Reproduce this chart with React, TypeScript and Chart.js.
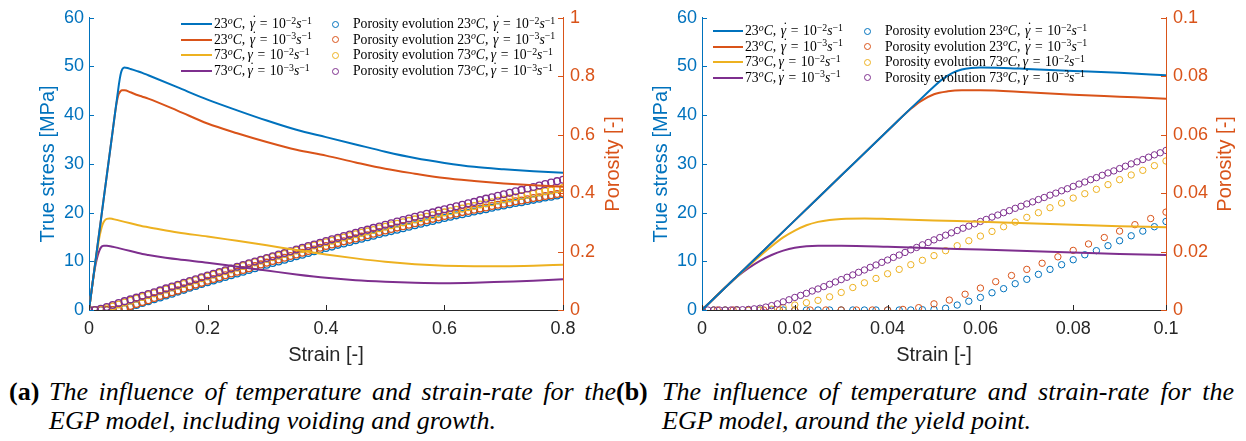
import React, { useEffect, useRef } from "react";
import { Chart, registerables } from "chart.js";
Chart.register(...registerables);

// ---------- stress–strain curves (shared by both panels) ----------
const STRAIN_23C_E2 = [0, 0.01, 0.02, 0.03, 0.04, 0.045, 0.048, 0.05, 0.052, 0.054, 0.056, 0.058, 0.06, 0.065, 0.07, 0.08, 0.09, 0.1, 0.15, 0.2, 0.25, 0.3, 0.35, 0.4, 0.45, 0.5, 0.55, 0.6, 0.65, 0.7, 0.75, 0.8];
const STRESS_23C_E2 = [0, 9.2, 18.4, 27.6, 36.8, 41.4, 44.1, 45.9, 47.5, 48.7, 49.4, 49.7, 49.8, 49.7, 49.5, 49.1, 48.7, 48.2, 45.7, 43.2, 41.0, 38.9, 37.0, 35.5, 34.0, 32.5, 31.2, 30.2, 29.4, 28.9, 28.5, 28.2];

const STRAIN_23C_E3 = [0, 0.01, 0.02, 0.03, 0.04, 0.045, 0.047, 0.05, 0.053, 0.056, 0.06, 0.07, 0.08, 0.09, 0.1, 0.15, 0.2, 0.25, 0.3, 0.35, 0.4, 0.45, 0.5, 0.55, 0.6, 0.65, 0.7, 0.75, 0.8];
const STRESS_23C_E3 = [0, 9.2, 18.4, 27.6, 36.8, 41.3, 42.8, 44.3, 44.9, 45.1, 45.1, 44.7, 44.2, 43.8, 43.4, 40.9, 38.3, 36.3, 34.5, 32.9, 31.7, 30.3, 29.0, 28.0, 27.1, 26.5, 26.0, 25.6, 25.3];

const STRAIN_73C_E2 = [0, 0.005, 0.01, 0.0125, 0.015, 0.0175, 0.02, 0.0225, 0.025, 0.0275, 0.03, 0.035, 0.04, 0.05, 0.06, 0.07, 0.08, 0.09, 0.1, 0.15, 0.2, 0.25, 0.3, 0.35, 0.4, 0.45, 0.5, 0.55, 0.6, 0.65, 0.7, 0.75, 0.8];
const STRESS_73C_E2 = [0, 4.6, 9.0, 11.1, 13.1, 14.9, 16.3, 17.4, 18.1, 18.5, 18.7, 18.8, 18.7, 18.4, 18.1, 17.8, 17.5, 17.2, 17.0, 15.9, 15.1, 14.2, 13.3, 12.3, 11.4, 10.6, 9.9, 9.4, 9.1, 9.0, 9.0, 9.1, 9.3];

const STRAIN_73C_E3 = [0, 0.005, 0.0075, 0.01, 0.0125, 0.015, 0.0175, 0.02, 0.0225, 0.025, 0.03, 0.04, 0.05, 0.06, 0.07, 0.08, 0.09, 0.1, 0.15, 0.2, 0.25, 0.3, 0.35, 0.4, 0.45, 0.5, 0.55, 0.6, 0.65, 0.7, 0.75, 0.8];
const STRESS_73C_E3 = [0, 4.6, 6.8, 8.6, 10.1, 11.3, 12.2, 12.8, 13.1, 13.2, 13.2, 13.0, 12.7, 12.4, 12.1, 11.8, 11.5, 11.3, 10.4, 9.7, 8.9, 8.1, 7.3, 6.6, 6.1, 5.8, 5.6, 5.5, 5.6, 5.8, 6.0, 6.3];

// ---------- porosity, panel (a): strain 0 … 0.8 ----------
const STRAIN_A = [0, 0.01, 0.02, 0.03, 0.04, 0.05, 0.06, 0.07, 0.08, 0.09, 0.1, 0.11, 0.12, 0.13, 0.14, 0.15, 0.16, 0.17, 0.18, 0.19, 0.2, 0.21, 0.22, 0.23, 0.24, 0.25, 0.26, 0.27, 0.28, 0.29, 0.3, 0.31, 0.32, 0.33, 0.34, 0.35, 0.36, 0.37, 0.38, 0.39, 0.4, 0.41, 0.42, 0.43, 0.44, 0.45, 0.46, 0.47, 0.48, 0.49, 0.5, 0.51, 0.52, 0.53, 0.54, 0.55, 0.56, 0.57, 0.58, 0.59, 0.6, 0.61, 0.62, 0.63, 0.64, 0.65, 0.66, 0.67, 0.68, 0.69, 0.7, 0.71, 0.72, 0.73, 0.74, 0.75, 0.76, 0.77, 0.78, 0.79, 0.8];
const POROSITY_A_23C_E2 = [0, 0, 0, 0, 0, 0.0002, 0.0043, 0.0105, 0.0172, 0.0237, 0.030, 0.037, 0.043, 0.050, 0.056, 0.063, 0.069, 0.076, 0.082, 0.089, 0.095, 0.101, 0.107, 0.113, 0.119, 0.125, 0.131, 0.137, 0.143, 0.149, 0.155, 0.161, 0.166, 0.172, 0.178, 0.184, 0.189, 0.195, 0.201, 0.206, 0.212, 0.217, 0.223, 0.228, 0.233, 0.239, 0.244, 0.249, 0.254, 0.260, 0.265, 0.270, 0.275, 0.280, 0.285, 0.290, 0.295, 0.300, 0.305, 0.310, 0.315, 0.319, 0.324, 0.328, 0.332, 0.337, 0.341, 0.345, 0.350, 0.354, 0.358, 0.362, 0.366, 0.369, 0.373, 0.377, 0.381, 0.385, 0.388, 0.392, 0.396];
const POROSITY_A_23C_E3 = [0, 0, 0, 0, 0, 0.0021, 0.0075, 0.0139, 0.0204, 0.027, 0.0335, 0.041, 0.048, 0.054, 0.061, 0.067, 0.074, 0.080, 0.087, 0.093, 0.100, 0.106, 0.112, 0.119, 0.125, 0.131, 0.137, 0.143, 0.150, 0.156, 0.162, 0.168, 0.173, 0.179, 0.185, 0.190, 0.196, 0.202, 0.207, 0.213, 0.219, 0.224, 0.229, 0.235, 0.240, 0.245, 0.251, 0.256, 0.261, 0.267, 0.272, 0.277, 0.282, 0.287, 0.292, 0.297, 0.302, 0.307, 0.312, 0.317, 0.322, 0.326, 0.330, 0.335, 0.339, 0.343, 0.347, 0.351, 0.356, 0.360, 0.364, 0.368, 0.372, 0.375, 0.379, 0.383, 0.386, 0.390, 0.393, 0.397, 0.400];
const POROSITY_A_73C_E2 = [0, 0, 0.0017, 0.006, 0.0124, 0.0186, 0.0253, 0.0317, 0.0383, 0.0446, 0.051, 0.057, 0.064, 0.070, 0.077, 0.083, 0.089, 0.096, 0.102, 0.109, 0.115, 0.121, 0.127, 0.133, 0.139, 0.145, 0.151, 0.157, 0.163, 0.169, 0.175, 0.181, 0.186, 0.192, 0.198, 0.204, 0.209, 0.215, 0.221, 0.226, 0.232, 0.237, 0.243, 0.248, 0.253, 0.259, 0.264, 0.269, 0.274, 0.280, 0.285, 0.290, 0.295, 0.300, 0.305, 0.310, 0.314, 0.319, 0.324, 0.329, 0.334, 0.338, 0.343, 0.347, 0.352, 0.356, 0.361, 0.365, 0.369, 0.374, 0.378, 0.382, 0.386, 0.390, 0.394, 0.398, 0.402, 0.406, 0.409, 0.413, 0.417];
const POROSITY_A_73C_E3 = [0, 0.0002, 0.0043, 0.0104, 0.0171, 0.024, 0.0303, 0.0363, 0.0423, 0.0484, 0.0546, 0.061, 0.067, 0.074, 0.080, 0.086, 0.093, 0.099, 0.105, 0.112, 0.118, 0.124, 0.130, 0.136, 0.142, 0.148, 0.154, 0.160, 0.166, 0.172, 0.178, 0.184, 0.190, 0.195, 0.201, 0.207, 0.213, 0.219, 0.224, 0.230, 0.236, 0.242, 0.247, 0.253, 0.258, 0.264, 0.270, 0.275, 0.281, 0.286, 0.292, 0.297, 0.303, 0.308, 0.313, 0.319, 0.324, 0.329, 0.334, 0.340, 0.345, 0.350, 0.355, 0.360, 0.365, 0.370, 0.376, 0.381, 0.386, 0.391, 0.396, 0.401, 0.406, 0.411, 0.416, 0.421, 0.426, 0.431, 0.436, 0.441, 0.446];

// ---------- porosity, panel (b): strain 0 … 0.1 ----------
const STRAIN_B = [0, 0.0025, 0.005, 0.0075, 0.01, 0.0125, 0.015, 0.0175, 0.02, 0.0225, 0.025, 0.0275, 0.03, 0.0325, 0.035, 0.0375, 0.04, 0.0425, 0.045, 0.0475, 0.05, 0.0525, 0.055, 0.0575, 0.06, 0.0625, 0.065, 0.0675, 0.07, 0.0725, 0.075, 0.0775, 0.08, 0.0825, 0.085, 0.0875, 0.09, 0.0925, 0.095, 0.0975, 0.1];
const POROSITY_B_23C_E2 = [0, 0, 0, 0, 0, 0, 0, 0, 0, 0, 0, 0, 0, 0, 0, 0, 0, 0, 0, 0.0001, 0.0002, 0.0006, 0.0017, 0.003, 0.0043, 0.0059, 0.0073, 0.009, 0.0105, 0.0122, 0.0139, 0.0155, 0.0172, 0.0189, 0.0203, 0.022, 0.0237, 0.0254, 0.027, 0.0285, 0.0303];
const POROSITY_B_73C_E2 = [0, 0, 0, 0, 0, 0, 0.0003, 0.0008, 0.0017, 0.0025, 0.0033, 0.0045, 0.006, 0.0077, 0.0093, 0.0108, 0.0124, 0.0139, 0.0155, 0.017, 0.0186, 0.0203, 0.022, 0.0237, 0.0253, 0.0269, 0.0285, 0.0301, 0.0317, 0.0333, 0.035, 0.0366, 0.0383, 0.0398, 0.0413, 0.0429, 0.0446, 0.0462, 0.0478, 0.0494, 0.051];
const STRAIN_B_23C_E3 = [0, 0.0033, 0.0067, 0.01, 0.0133, 0.0167, 0.02, 0.0233, 0.0267, 0.03, 0.0333, 0.0367, 0.04, 0.0433, 0.0467, 0.05, 0.0533, 0.0567, 0.06, 0.0633, 0.0667, 0.07, 0.0733, 0.0767, 0.08, 0.0833, 0.0867, 0.09, 0.0933, 0.0967, 0.1];
const POROSITY_B_23C_E3 = [0, 0, 0, 0, 0, 0, 0, 0, 0, 0, 0, 0, 0, 0.0002, 0.0008, 0.0021, 0.0034, 0.0054, 0.0075, 0.0097, 0.0118, 0.0139, 0.016, 0.0182, 0.0204, 0.0226, 0.0248, 0.027, 0.0292, 0.0313, 0.0335];
const STRAIN_B_73C_E3 = [0, 0.00125, 0.0025, 0.00375, 0.005, 0.00625, 0.0075, 0.00875, 0.01, 0.01125, 0.0125, 0.01375, 0.015, 0.01625, 0.0175, 0.01875, 0.02, 0.02125, 0.0225, 0.02375, 0.025, 0.02625, 0.0275, 0.02875, 0.03, 0.03125, 0.0325, 0.03375, 0.035, 0.03625, 0.0375, 0.03875, 0.04, 0.04125, 0.0425, 0.04375, 0.045, 0.04625, 0.0475, 0.04875, 0.05, 0.05125, 0.0525, 0.05375, 0.055, 0.05625, 0.0575, 0.05875, 0.06, 0.06125, 0.0625, 0.06375, 0.065, 0.06625, 0.0675, 0.06875, 0.07, 0.07125, 0.0725, 0.07375, 0.075, 0.07625, 0.0775, 0.07875, 0.08, 0.08125, 0.0825, 0.08375, 0.085, 0.08625, 0.0875, 0.08875, 0.09, 0.09125, 0.0925, 0.09375, 0.095, 0.09625, 0.0975, 0.09875, 0.1];
const POROSITY_B_73C_E3 = [0, 0, 0, 0, 0, 0, 0.0001, 0.0001, 0.0002, 0.0004, 0.0006, 0.001, 0.0015, 0.0021, 0.0028, 0.0035, 0.0043, 0.005, 0.0057, 0.0065, 0.0072, 0.008, 0.0088, 0.0096, 0.0104, 0.0112, 0.012, 0.0129, 0.0137, 0.0146, 0.0154, 0.0163, 0.0171, 0.018, 0.0188, 0.0197, 0.0206, 0.0214, 0.0223, 0.0231, 0.024, 0.0248, 0.0256, 0.0264, 0.0272, 0.028, 0.0287, 0.0295, 0.0303, 0.031, 0.0318, 0.0325, 0.0333, 0.034, 0.0348, 0.0355, 0.0363, 0.037, 0.0378, 0.0385, 0.0393, 0.04, 0.0408, 0.0415, 0.0423, 0.0431, 0.0438, 0.0446, 0.0453, 0.0461, 0.0469, 0.0476, 0.0484, 0.0492, 0.05, 0.0507, 0.0515, 0.0523, 0.0531, 0.0538, 0.0546];

// ---------- labels ----------
const LEGEND_TEMPS = ["23", "23", "73", "73"];
const LEGEND_RATE_EXPONENTS = ["2", "3", "2", "3"];
const X_TITLE = "Strain [-]";
const Y_LEFT_TITLE = "True stress [MPa]";
const Y_RIGHT_TITLE = "Porosity [-]";
const CAPTION_A = ["The influence of temperature and strain-rate for the", "EGP model, including voiding and growth."];
const CAPTION_B = ["The influence of temperature and strain-rate for the", "EGP model, around the yield point."];

const BLUE = "#0072BD";
const ORANGE = "#D95319";
const YELLOW = "#EDB120";
const PURPLE = "#7E2F8E";
const INK = "#262626";
const COLORS = [BLUE, ORANGE, YELLOW, PURPLE];
const SANS = '"Liberation Sans", Arial, Helvetica, sans-serif';
const SERIF = '"Liberation Serif", "Times New Roman", Times, serif';

const zip = (xs: number[], ys: number[]) => xs.map((x, i) => ({ x, y: ys[i] }));
const fmt = (v: any) => String(parseFloat(Number(v).toFixed(4)));

const inwardTicks = {
  id: "inwardTicks",
  afterDraw(chart: any) {
    const { ctx, chartArea: a } = chart;
    ctx.save();
    ctx.lineWidth = 1;
    Object.values(chart.scales).forEach((s: any) => {
      ctx.strokeStyle = s.options.border.color;
      s.ticks.forEach((t: any) => {
        const p = Math.round(s.getPixelForValue(t.value)) + 0.5;
        ctx.beginPath();
        if (s.isHorizontal()) {
          ctx.moveTo(p, a.bottom);
          ctx.lineTo(p, a.bottom - 5);
        } else if (s.position === "left") {
          ctx.moveTo(a.left, p);
          ctx.lineTo(a.left + 5, p);
        } else {
          ctx.moveTo(a.right, p);
          ctx.lineTo(a.right - 5, p);
        }
        ctx.stroke();
      });
    });
    ctx.restore();
  },
};

const makeSideTitle = (text: string, x: number, color: string) => ({
  id: "sideTitle",
  afterDraw(chart: any) {
    const { ctx, chartArea: a } = chart;
    ctx.save();
    ctx.translate(x, (a.top + a.bottom) / 2);
    ctx.rotate(-Math.PI / 2);
    ctx.font = `20px ${SANS}`;
    ctx.fillStyle = color;
    ctx.textAlign = "center";
    ctx.textBaseline = "middle";
    ctx.fillText(text, 0, 0);
    ctx.restore();
  },
});

function buildConfig(p: any) {
  const lines = [
    [STRAIN_23C_E2, STRESS_23C_E2],
    [STRAIN_23C_E3, STRESS_23C_E3],
    [STRAIN_73C_E2, STRESS_73C_E2],
    [STRAIN_73C_E3, STRESS_73C_E3],
  ];
  const datasets: any[] = [];
  lines.forEach(([xs, ys], i) =>
    datasets.push({
      data: zip(xs, ys),
      borderColor: COLORS[i],
      borderWidth: 2,
      pointRadius: 0,
      fill: false,
      yAxisID: "y",
      order: i + 1,
      cubicInterpolationMode: "monotone",
    })
  );
  p.markers.forEach(([xs, ys]: any, i: number) =>
    datasets.push({
      data: zip(xs, ys),
      showLine: false,
      borderColor: COLORS[i],
      backgroundColor: "rgba(0,0,0,0)",
      pointBorderColor: COLORS[i],
      pointBackgroundColor: "rgba(0,0,0,0)",
      pointRadius: p.markerR,
      pointBorderWidth: p.markerW,
      yAxisID: "y1",
      order: 10 - i,
    })
  );
  const tickFont = { family: SANS, size: 18 };
  return {
    type: "line",
    data: { datasets },
    options: {
      responsive: false,
      animation: false,
      events: [],
      layout: { padding: { top: 15, left: 0, right: 0, bottom: 0 } },
      plugins: { legend: { display: false }, tooltip: { enabled: false } },
      scales: {
        x: {
          type: "linear",
          position: "bottom",
          min: 0,
          max: p.xMax,
          ticks: { stepSize: p.xStep, color: INK, font: tickFont, padding: 8, maxRotation: 0, autoSkip: false, callback: fmt },
          grid: { display: false, drawTicks: false },
          border: { display: true, color: INK, width: 1 },
          title: { display: true, text: X_TITLE, color: INK, font: { family: SANS, size: 20 }, padding: { top: 0, bottom: 3 } },
          afterFit: (s: any) => { s.height = 60; },
        },
        y: {
          type: "linear",
          position: "left",
          min: 0,
          max: 60,
          ticks: { stepSize: 10, color: BLUE, font: tickFont, padding: 5, callback: fmt },
          grid: { display: false, drawTicks: false },
          border: { display: true, color: BLUE, width: 1 },
          title: { display: true, text: Y_LEFT_TITLE, color: BLUE, font: { family: SANS, size: 20 }, padding: { top: p.leftTitlePad, bottom: 0 } },
          afterFit: (s: any) => { s.width = p.leftW; },
        },
        y1: {
          type: "linear",
          position: "right",
          min: 0,
          max: p.y1Max,
          ticks: { stepSize: p.y1Step, color: ORANGE, font: tickFont, padding: 7, callback: fmt },
          grid: { display: false, drawTicks: false },
          border: { display: true, color: ORANGE, width: 1 },
          afterFit: (s: any) => { s.width = p.rightW; },
        },
      },
    },
    plugins: [inwardTicks, makeSideTitle(Y_RIGHT_TITLE, p.rightTitleX, ORANGE)],
  };
}

function Sup({ children }: any) {
  return <span style={{ fontSize: "0.72em", position: "relative", top: "-0.45em", lineHeight: 0 }}>{children}</span>;
}

function GammaDot() {
  return (
    <span style={{ position: "relative", display: "inline-block", lineHeight: "16px" }}>
      <i>{"\u03B3"}</i>
      <span style={{ position: "absolute", left: "0.16em", top: "-0.22em", fontStyle: "normal" }}>{"\u02D9"}</span>
    </span>
  );
}

function RateText({ temp, exp }: any) {
  const tight = temp === "73";
  return (
    <span>
      {temp}
      <Sup><i>o</i></Sup>
      <i>C</i>,{tight ? "\u2006" : "\u2004"}
      <GammaDot />
      {"\u2004=\u2004"}10
      <Sup>{"\u2212" + exp}</Sup>
      <i>s</i>
      <Sup>{"\u22121"}</Sup>
    </span>
  );
}

function Legend({ lineX, lineW, textX, markerX, poroX, rows }: any) {
  const txt: any = { position: "absolute", height: 16, lineHeight: "16px", fontFamily: SERIF, fontSize: 13.7, color: "#000", whiteSpace: "nowrap" };
  return (
    <>
      {rows.map((y: number, i: number) => (
        <React.Fragment key={i}>
          <div style={{ position: "absolute", left: lineX, top: y - 1, width: lineW, height: 2, background: COLORS[i] }} />
          <div style={{ ...txt, left: textX, top: y - 8 }}>
            <RateText temp={LEGEND_TEMPS[i]} exp={LEGEND_RATE_EXPONENTS[i]} />
          </div>
          <div style={{ position: "absolute", left: markerX - 3.5, top: y - 3.5, width: 5, height: 5, borderRadius: "50%", border: `1px solid ${COLORS[i]}` }} />
          <div style={{ ...txt, left: poroX, top: y - 8 }}>
            Porosity evolution <RateText temp={LEGEND_TEMPS[i]} exp={LEGEND_RATE_EXPONENTS[i]} />
          </div>
        </React.Fragment>
      ))}
    </>
  );
}

function Caption({ label, lines, labelX, textX, width }: any) {
  const base: any = { position: "absolute", fontFamily: SERIF, fontSize: 26, lineHeight: "29px", color: "#000", whiteSpace: "nowrap" };
  return (
    <>
      <div style={{ ...base, left: labelX, top: 377, fontWeight: "bold" }}>{label}</div>
      <div style={{ ...base, left: textX, top: 377, width, fontStyle: "italic", textAlign: "justify", textAlignLast: "justify" as any, whiteSpace: "normal" }}>{lines[0]}</div>
      <div style={{ ...base, left: textX, top: 406, fontStyle: "italic" }}>{lines[1]}</div>
    </>
  );
}

export default function App() {
  const refA = useRef<HTMLCanvasElement>(null);
  const refB = useRef<HTMLCanvasElement>(null);

  useEffect(() => {
    const a = new Chart(
      refA.current as HTMLCanvasElement,
      buildConfig({
        xMax: 0.8,
        xStep: 0.2,
        y1Max: 1,
        y1Step: 0.2,
        leftW: 89,
        rightW: 62,
        leftTitlePad: 36,
        rightTitleX: 613,
        markerR: 3.4,
        markerW: 1.3,
        markers: [
          [STRAIN_A, POROSITY_A_23C_E2],
          [STRAIN_A, POROSITY_A_23C_E3],
          [STRAIN_A, POROSITY_A_73C_E2],
          [STRAIN_A, POROSITY_A_73C_E3],
        ],
      }) as any
    );
    const b = new Chart(
      refB.current as HTMLCanvasElement,
      buildConfig({
        xMax: 0.1,
        xStep: 0.02,
        y1Max: 0.1,
        y1Step: 0.02,
        leftW: 77,
        rightW: 80,
        leftTitlePad: 24.5,
        rightTitleX: 600.5,
        markerR: 3.2,
        markerW: 1,
        markers: [
          [STRAIN_B, POROSITY_B_23C_E2],
          [STRAIN_B_23C_E3, POROSITY_B_23C_E3],
          [STRAIN_B, POROSITY_B_73C_E2],
          [STRAIN_B_73C_E3, POROSITY_B_73C_E3],
        ],
      }) as any
    );
    return () => {
      a.destroy();
      b.destroy();
    };
  }, []);

  return (
    <div style={{ position: "absolute", left: 0, top: 0, width: 1246, height: 441, background: "#fff", overflow: "hidden" }}>
      <canvas ref={refA} width={625} height={370} style={{ position: "absolute", left: 0, top: 0 }} />
      <canvas ref={refB} width={621} height={370} style={{ position: "absolute", left: 625, top: 0 }} />
      <Legend lineX={181} lineW={31} textX={214} markerX={335} poroX={353} rows={[24, 39.7, 55.4, 71]} />
      <Legend lineX={713} lineW={30} textX={745} markerX={867} poroX={885} rows={[31, 46.5, 62, 77.5]} />
      <Caption label="(a)" lines={CAPTION_A} labelX={9} textX={49} width={567} />
      <Caption label="(b)" lines={CAPTION_B} labelX={616} textX={662} width={572} />
    </div>
  );
}
